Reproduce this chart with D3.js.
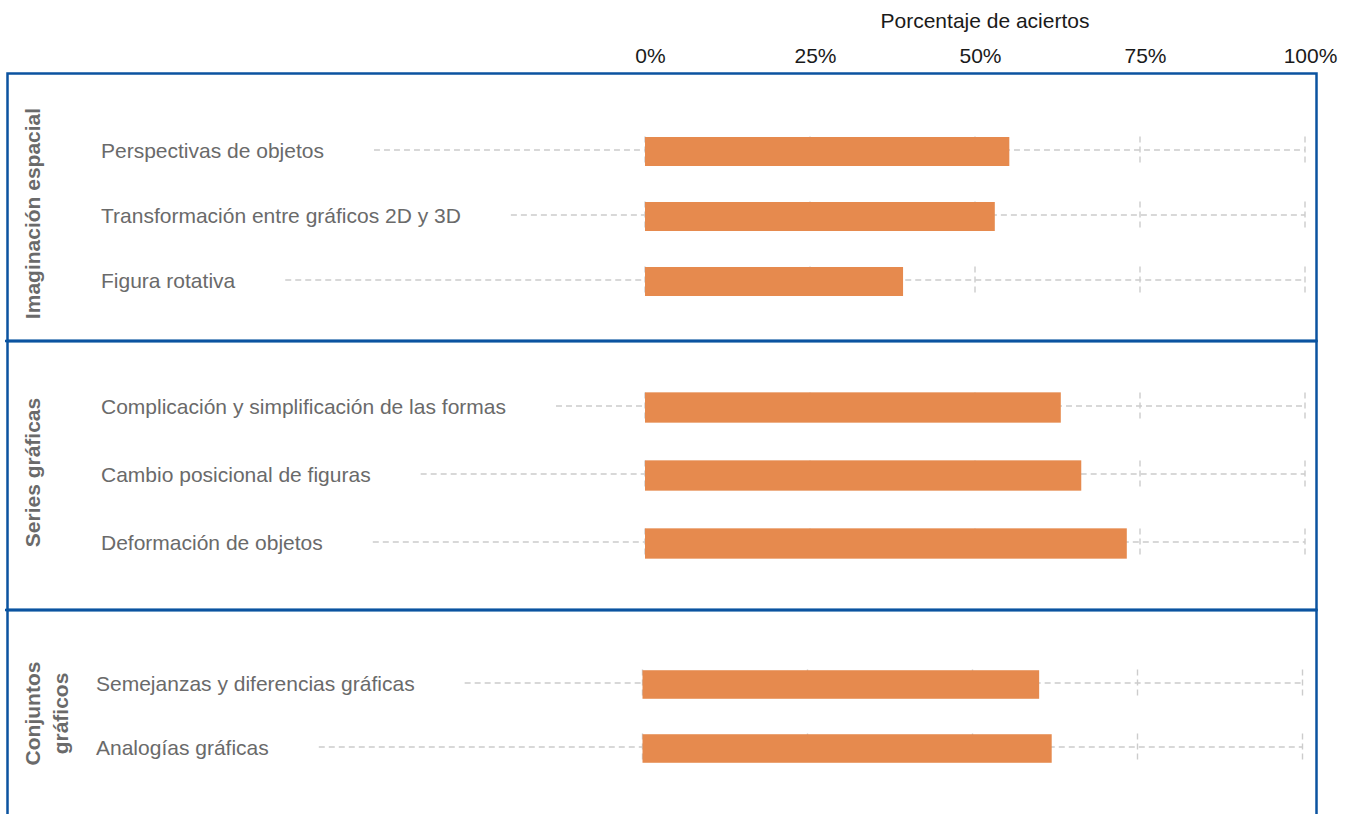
<!DOCTYPE html>
<html>
<head>
<meta charset="utf-8">
<script src="https://cdn.jsdelivr.net/npm/d3@7"></script>
<style>
  html, body { margin: 0; padding: 0; background: #fff; }
  svg { display: block; font-family: "Liberation Sans", Arial, sans-serif; }
</style>
</head>
<body>
<svg id="chart" width="1354" height="814"></svg>
<script>
// ---- data ----
const groups = ["Imaginación espacial", "Series gráficas", "Conjuntos gráficos"];
const groupLines = [["Imaginación espacial"], ["Series gráficas"], ["Conjuntos", "gráficos"]];
const categories = [
  ["Perspectivas de objetos", "Transformación entre gráficos 2D y 3D", "Figura rotativa"],
  ["Complicación y simplificación de las formas", "Cambio posicional de figuras", "Deformación de objetos"],
  ["Semejanzas y diferencias gráficas", "Analogías gráficas"]
];
const values = [
  [55.2, 53.0, 39.1],
  [63.0, 66.1, 73.0],
  [60.1, 62.0]
];
const tickValues = [0, 25, 50, 75, 100];
const tickLabels = ["0%", "25%", "50%", "75%", "100%"];
const axisTitle = "Porcentaje de aciertos";

// ---- layout ----
const svg = d3.select("#chart");
const blue = "#0b53a0";
const barColor = "#e68a4e";
const gridColor = "#cccccc";
const labelColor = "#6a6a6a";

const panels = [
  { y0: 73.5, y1: 341, rows: [119, 314], xr: [645, 1305], labelX: 101 },
  { y0: 341, y1: 610, rows: [373.5, 577.5], xr: [645, 1305], labelX: 101 },
  { y0: 610, y1: 840, rows: [652.5, 780.5], xr: [642.5, 1302.5], labelX: 96 }
];

// top axis
const xTop = d3.scaleLinear().domain([0, 100]).range(panels[0].xr);
svg.append("text")
  .attr("x", xTop(50) + 10).attr("y", 28)
  .attr("text-anchor", "middle")
  .attr("font-size", 21).attr("fill", "#1a1a1a")
  .text(axisTitle);

const axis = d3.axisTop(xTop).tickValues(tickValues)
  .tickFormat((d, i) => tickLabels[i]).tickSize(0).tickPadding(0);
const axG = svg.append("g").attr("transform", "translate(5,63)").call(axis);
axG.select(".domain").remove();
axG.selectAll("text").attr("font-size", 21).attr("fill", "#1a1a1a")
  .attr("font-family", "Liberation Sans, Arial, sans-serif")
  .attr("dy", 0);

// panels
panels.forEach((p, gi) => {
  const x = d3.scaleLinear().domain([0, 100]).range(p.xr);
  const y = d3.scaleBand().domain(categories[gi]).range(p.rows).paddingInner(0.554).paddingOuter(0.277);
  const g = svg.append("g");

  const rows = categories[gi].map((c, i) => ({ c, v: values[gi][i] }));

  // labels
  const labels = g.selectAll("text.lab").data(rows).join("text")
    .attr("class", "lab")
    .attr("x", p.labelX)
    .attr("y", d => y(d.c) + y.bandwidth() / 2 + 6)
    .attr("font-size", 21).attr("fill", labelColor)
    .text(d => d.c);

  // grid lines per row
  labels.each(function (d) {
    const w = this.getComputedTextLength();
    const cy = y(d.c) + y.bandwidth() / 2 - 1.5;
    g.append("line")
      .attr("x1", p.labelX + w + 50).attr("x2", x(100))
      .attr("y1", cy).attr("y2", cy)
      .attr("stroke", gridColor).attr("stroke-width", 1.4)
      .attr("stroke-dasharray", "6,4");
    tickValues.forEach(t => {
      g.append("line")
        .attr("x1", x(t)).attr("x2", x(t))
        .attr("y1", cy - 13.5).attr("y2", cy + 13)
        .attr("stroke", gridColor).attr("stroke-width", 1.4)
        .attr("stroke-dasharray", "6,4");
    });
  });

  // bars
  g.selectAll("rect.bar").data(rows).join("rect")
    .attr("class", "bar")
    .attr("x", x(0))
    .attr("y", d => y(d.c))
    .attr("width", d => x(d.v) - x(0))
    .attr("height", y.bandwidth())
    .attr("fill", barColor);

  // group label (rotated)
  const cyRows = (y(categories[gi][0]) + y(categories[gi][categories[gi].length - 1]) + y.bandwidth()) / 2;
  const lines = groupLines[gi];
  lines.forEach((ln, li) => {
    svg.append("text")
      .attr("transform", `translate(${40 + li * 28},${cyRows - 3}) rotate(-90)`)
      .attr("text-anchor", "middle")
      .attr("font-size", 21).attr("font-weight", "bold").attr("fill", labelColor)
      .text(ln);
  });

  // panel border
  svg.append("rect")
    .attr("x", 7.5).attr("y", p.y0)
    .attr("width", 1316.5 - 7.5).attr("height", p.y1 - p.y0)
    .attr("fill", "none").attr("stroke", blue).attr("stroke-width", 2.5);
  if (gi > 0) {
    svg.append("line").attr("x1", 5).attr("x2", 1317)
      .attr("y1", p.y0).attr("y2", p.y0)
      .attr("stroke", blue).attr("stroke-width", 2.5);
  }
});
</script>
</body>
</html>
